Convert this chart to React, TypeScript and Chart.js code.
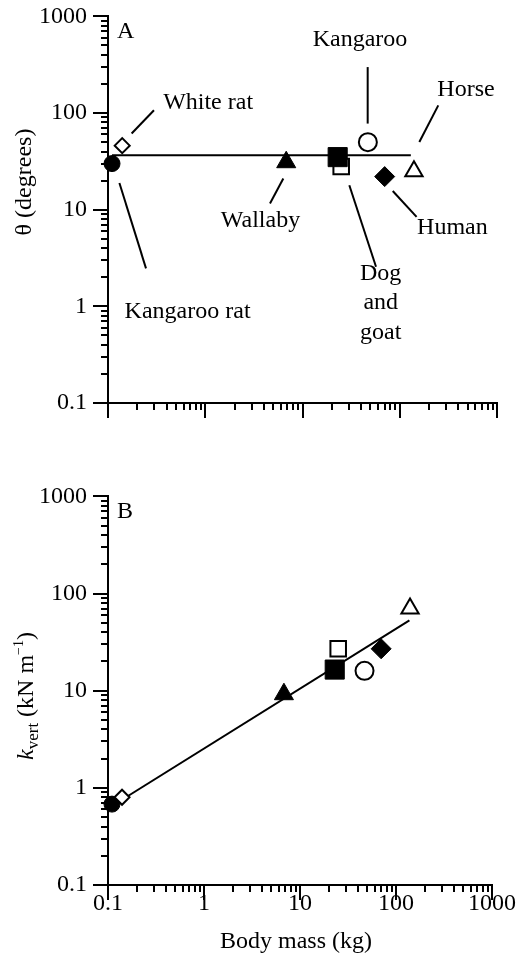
import React, { useEffect, useRef } from "react";
import { Chart, registerables } from "chart.js";

Chart.register(...registerables);

// ---------- data ----------
const species = ["Kangaroo rat", "White rat", "Wallaby", "Goat", "Dog", "Kangaroo", "Human", "Horse"];
const bodyMass = [0.11, 0.14, 6.8, 25, 23, 47, 70, 140];
const thetaDeg = [30, 46, 31, 28, 35, 50, 22, 25];
const kVert = [0.68, 0.8, 9.2, 27, 16.5, 16, 27, 70];

const thetaFitMass = [0.11, 130];
const thetaFitValue = [36.5, 36.5];
const kFitMass = [0.11, 138];
const kFitValue = [0.65, 53];

const tickValues = [0.1, 1, 10, 100, 1000];
const tickLabels = ["0.1", "1", "10", "100", "1000"];

// annotation labels in panel A (data coordinates)
const labelTexts = ["White rat", "Kangaroo rat", "Wallaby", "Kangaroo", "Horse", "Human", "Dog\nand\ngoat"];
const labelMass = [1.07, 0.658, 3.7, 39.0, 480, 348, 63.7];
const labelTheta = [129, 0.873, 7.78, 578, 176, 6.44, 1.08];
const leaderFromMass = [0.175, 0.131, 6.35, 46.8, 159, 84.7, 30.3];
const leaderFromTheta = [61.4, 18.9, 21.0, 77.8, 50.2, 15.6, 17.9];
const leaderToMass = [0.297, 0.246, 4.63, 46.8, 249, 149, 57.0];
const leaderToTheta = [107, 2.47, 11.6, 299, 120, 8.43, 2.57];

// ---------- styles ----------
const pointStyles = ["circle", "rectRot", "triangle", "rect", "rect", "circle", "rectRot", "triangle"];
const pointFilled = [true, false, true, false, true, false, true, false];
const pointRadii = [8, 7.5, 11, 11, 13.5, 9, 10, 10];

const FONT = "'Liberation Serif', 'Times New Roman', serif";
const AXIS_MIN = 0.1;
const AXIS_MAX = 1000;

function drawAxes(chart: any) {
  const { ctx, scales } = chart;
  const x = scales.x;
  const y = scales.y;
  ctx.save();
  ctx.strokeStyle = "#000";
  ctx.lineWidth = 2;
  ctx.lineCap = "butt";
  const x0 = Math.round(x.getPixelForValue(AXIS_MIN));
  const x1 = Math.round(x.getPixelForValue(AXIS_MAX));
  const y0 = Math.round(y.getPixelForValue(AXIS_MIN));
  const y1 = Math.round(y.getPixelForValue(AXIS_MAX));
  ctx.beginPath();
  ctx.moveTo(x0, y1 - 1);
  ctx.lineTo(x0, y0 + 1);
  ctx.moveTo(x0 - 1, y0);
  ctx.lineTo(x1 + 1, y0);
  for (let e = -1; e <= 2; e++) {
    for (let k = 1; k <= 9; k++) {
      const v = k * Math.pow(10, e);
      const len = k === 1 ? 15 : 7;
      const py = Math.round(y.getPixelForValue(v));
      ctx.moveTo(x0, py);
      ctx.lineTo(x0 - len, py);
      const px = Math.round(x.getPixelForValue(v));
      ctx.moveTo(px, y0);
      ctx.lineTo(px, y0 + len);
    }
  }
  ctx.moveTo(x0, y1);
  ctx.lineTo(x0 - 15, y1);
  ctx.moveTo(x1, y0);
  ctx.lineTo(x1, y0 + 15);
  ctx.stroke();
  ctx.restore();
}

function drawPanelLetter(chart: any, letter: string) {
  const { ctx, chartArea } = chart;
  ctx.save();
  ctx.fillStyle = "#000";
  ctx.font = `24px ${FONT}`;
  ctx.textAlign = "left";
  ctx.textBaseline = "alphabetic";
  ctx.fillText(letter, chartArea.left + 9, chartArea.top + 22);
  ctx.restore();
}

function drawAnnotations(chart: any) {
  const { ctx, scales } = chart;
  const x = scales.x;
  const y = scales.y;
  ctx.save();
  ctx.fillStyle = "#000";
  ctx.strokeStyle = "#000";
  ctx.lineWidth = 2;
  ctx.font = `24px ${FONT}`;
  ctx.textAlign = "center";
  ctx.textBaseline = "middle";
  for (let i = 0; i < labelTexts.length; i++) {
    const lines = labelTexts[i].split("\n");
    const cx = x.getPixelForValue(labelMass[i]);
    const cy = y.getPixelForValue(labelTheta[i]);
    lines.forEach((t, j) => {
      ctx.fillText(t, cx, cy + (j - (lines.length - 1) / 2) * 29.5);
    });
    ctx.beginPath();
    ctx.moveTo(x.getPixelForValue(leaderFromMass[i]), y.getPixelForValue(leaderFromTheta[i]));
    ctx.lineTo(x.getPixelForValue(leaderToMass[i]), y.getPixelForValue(leaderToTheta[i]));
    ctx.stroke();
  }
  ctx.restore();
}

function drawThetaTitle(chart: any, cy: number) {
  const { ctx } = chart;
  ctx.save();
  ctx.translate(25, cy);
  ctx.rotate(-Math.PI / 2);
  ctx.fillStyle = "#000";
  ctx.font = `24px ${FONT}`;
  ctx.textAlign = "center";
  ctx.textBaseline = "middle";
  ctx.fillText("θ (degrees)", 0, 0);
  ctx.restore();
}

function drawKTitle(chart: any, cy: number) {
  const { ctx } = chart;
  const parts = [
    { t: "k", f: `italic 24px ${FONT}`, dy: 0 },
    { t: "vert", f: `17px ${FONT}`, dy: 5 },
    { t: " (kN m", f: `24px ${FONT}`, dy: 0 },
    { t: "\u22121", f: `14px ${FONT}`, dy: -10 },
    { t: ")", f: `24px ${FONT}`, dy: 0 },
  ];
  ctx.save();
  ctx.translate(25, cy);
  ctx.rotate(-Math.PI / 2);
  ctx.fillStyle = "#000";
  ctx.textAlign = "left";
  ctx.textBaseline = "alphabetic";
  let total = 0;
  const widths = parts.map((p) => {
    ctx.font = p.f;
    const w = ctx.measureText(p.t).width;
    total += w;
    return w;
  });
  let cx = -total / 2;
  parts.forEach((p, i) => {
    ctx.font = p.f;
    ctx.fillText(p.t, cx, 8 + p.dy);
    cx += widths[i];
  });
  ctx.restore();
}

function drawXTitle(chart: any, cx: number, cy: number) {
  const { ctx } = chart;
  ctx.save();
  ctx.fillStyle = "#000";
  ctx.font = `24px ${FONT}`;
  ctx.textAlign = "center";
  ctx.textBaseline = "middle";
  ctx.fillText("Body mass (kg)", cx, cy);
  ctx.restore();
}

function buildConfig(panel: "A" | "B"): any {
  const values = panel === "A" ? thetaDeg : kVert;
  const fitX = panel === "A" ? thetaFitMass : kFitMass;
  const fitY = panel === "A" ? thetaFitValue : kFitValue;
  const xHeight = panel === "A" ? 77 : 76;

  const plugin = {
    id: "panel" + panel,
    beforeDatasetsDraw(chart: any) {
      drawAxes(chart);
    },
    afterDraw(chart: any) {
      drawPanelLetter(chart, panel);
      if (panel === "A") {
        drawAnnotations(chart);
        drawThetaTitle(chart, 182);
      } else {
        drawKTitle(chart, 216);
        drawXTitle(chart, 296, 462);
      }
    },
  };

  const logAxis = (axis: "x" | "y") => ({
    type: "logarithmic",
    min: AXIS_MIN,
    max: AXIS_MAX,
    position: axis === "x" ? "bottom" : "left",
    grid: {
      display: axis === "y",
      drawTicks: axis === "y",
      drawOnChartArea: false,
      tickLength: 19,
      color: "rgba(0,0,0,0)",
      tickColor: "rgba(0,0,0,0)",
    },
    border: { display: false },
    title: { display: false },
    afterBuildTicks: (scale: any) => {
      scale.ticks = tickValues.map((v) => ({ value: v, major: true }));
    },
    afterFit: (scale: any) => {
      if (axis === "x") scale.height = xHeight;
      else scale.width = 108;
    },
    ticks: {
      display: axis === "y" || panel === "B",
      autoSkip: false,
      maxRotation: 0,
      minRotation: 0,
      padding: axis === "y" ? 2 : 4,
      color: "#000",
      font: { family: FONT, size: 24 },
      callback: (_v: any, i: number) => tickLabels[i],
    },
  });

  return {
    type: "scatter",
    data: {
      datasets: [
        {
          label: panel === "A" ? "θ" : "kvert",
          data: bodyMass.map((m, i) => ({ x: m, y: values[i] })),
          pointStyle: pointStyles,
          pointRadius: pointRadii,
          pointBackgroundColor: pointFilled.map((f) => (f ? "#000" : "#fff")),
          pointBorderColor: "#000",
          pointBorderWidth: pointFilled.map((f) => (f ? 1 : 2)),
          clip: false,
          order: 0,
        },
        {
          label: "fit",
          data: fitX.map((m, i) => ({ x: m, y: fitY[i] })),
          showLine: true,
          borderColor: "#000",
          borderWidth: 2,
          pointRadius: 0,
          fill: false,
          clip: false,
          order: 1,
        },
      ],
    },
    options: {
      responsive: false,
      animation: false,
      events: [],
      layout: { autoPadding: false, padding: { top: 16, right: 23, left: 0, bottom: 0 } },
      plugins: { legend: { display: false }, tooltip: { enabled: false }, title: { display: false } },
      scales: { x: logAxis("x"), y: logAxis("y") },
    },
    plugins: [plugin],
  };
}

function Panel({ panel, height }: { panel: "A" | "B"; height: number }) {
  const ref = useRef<HTMLCanvasElement | null>(null);
  useEffect(() => {
    if (!ref.current) return;
    const chart = new Chart(ref.current, buildConfig(panel));
    return () => chart.destroy();
  }, [panel]);
  return <canvas ref={ref} width={520} height={height} style={{ display: "block", width: 520, height }} />;
}

export default function App() {
  return (
    <div style={{ position: "absolute", left: 0, top: 0, width: 520, height: 961, background: "#fff" }}>
      <Panel panel="A" height={480} />
      <Panel panel="B" height={481} />
    </div>
  );
}
